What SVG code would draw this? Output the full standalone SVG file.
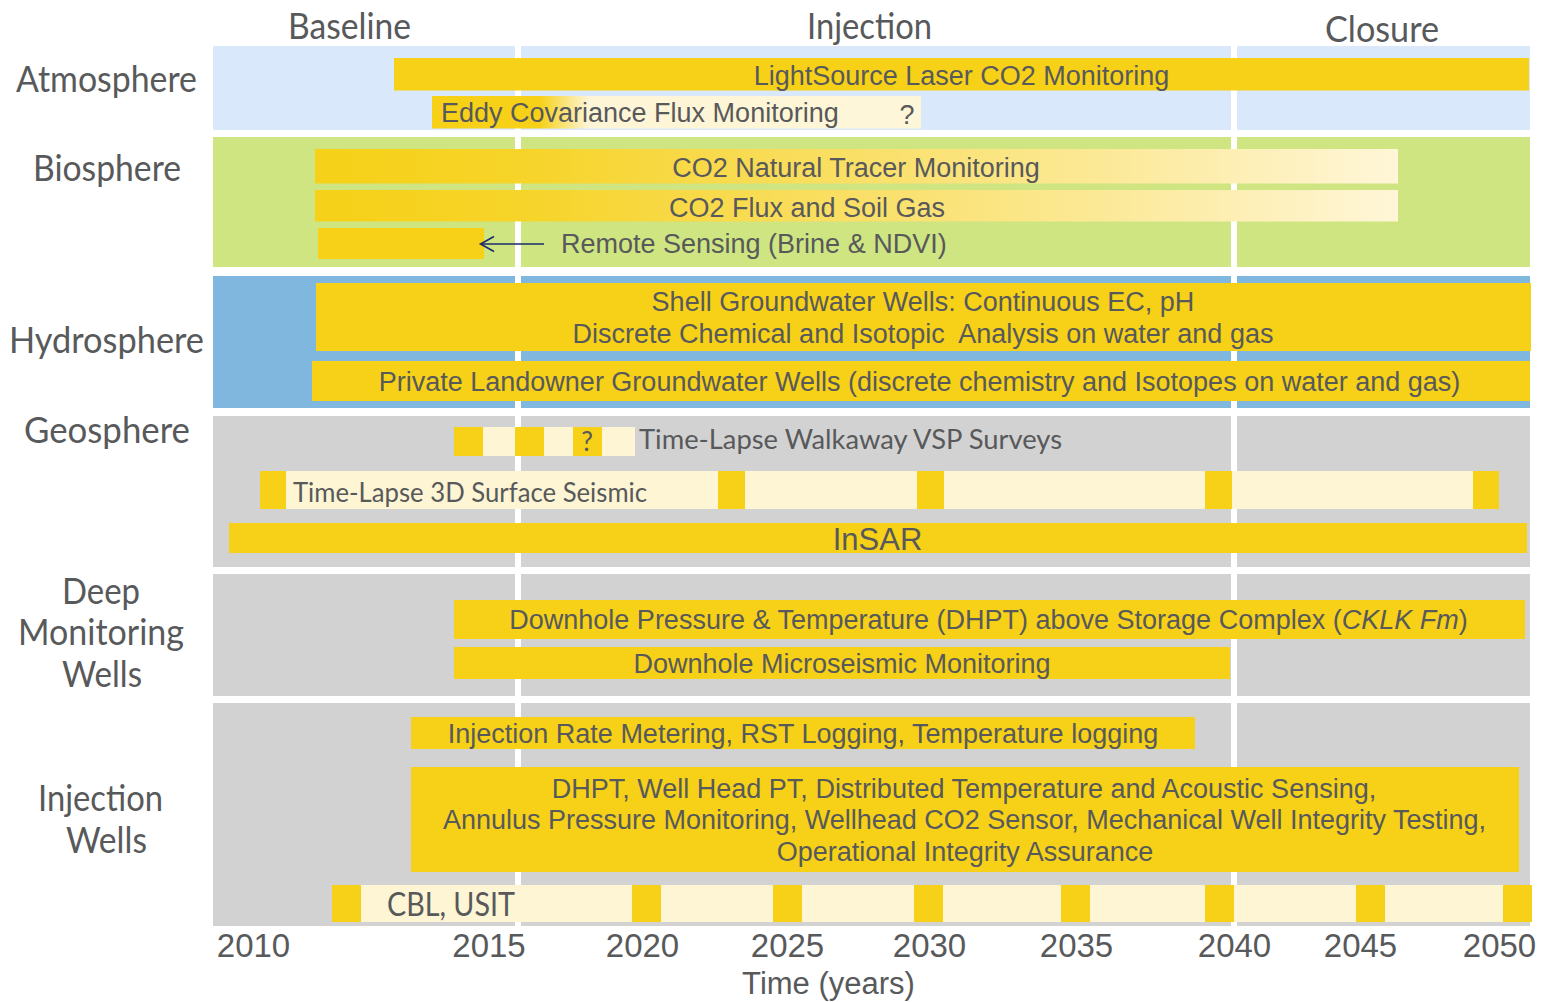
<svg xmlns="http://www.w3.org/2000/svg" width="1544" height="1002" viewBox="0 0 1544 1002">
<defs>
<style>
.f{font-family:Lato,"Open Sans","DejaVu Sans",sans-serif;fill:#58595b}
.h{font-size:36px}
.a{font-family:"Liberation Sans",Arial,sans-serif;fill:#58595b;font-size:27px}
.ax{font-family:"Liberation Sans",Arial,sans-serif;fill:#58595b;font-size:33px;text-anchor:middle}
.y{fill:#f6d118}
.c{fill:#fdf5d3}
.m{text-anchor:middle}
</style>
<linearGradient id="fade" x1="0" y1="0" x2="1" y2="0">
<stop offset="0" stop-color="#f6d118"/>
<stop offset="0.2" stop-color="#f7d42a"/>
<stop offset="0.45" stop-color="#f9dd5c"/>
<stop offset="0.75" stop-color="#fcea9c"/>
<stop offset="1" stop-color="#fff6d8"/>
</linearGradient>
<linearGradient id="eddy" x1="0" y1="0" x2="1" y2="0">
<stop offset="0" stop-color="#f6d118"/>
<stop offset="0.22" stop-color="#f6d118"/>
<stop offset="0.32" stop-color="#fef5d6"/>
<stop offset="1" stop-color="#fef6d8"/>
</linearGradient>
</defs>
<rect width="1544" height="1002" fill="#ffffff"/>

<g id="bands">
<rect id="band-atmosphere" x="213" y="46" width="1317" height="84" fill="#d9e8fb"/>
<rect id="band-biosphere" x="213" y="137" width="1317" height="130" fill="#cee582"/>
<rect id="band-hydrosphere" x="213" y="276" width="1317" height="132" fill="#80b7de"/>
<rect id="band-geosphere" x="213" y="416" width="1317" height="151" fill="#d2d2d2"/>
<rect id="band-deep" x="213" y="574" width="1317" height="122" fill="#d2d2d2"/>
<rect id="band-injection" x="213" y="703" width="1317" height="223" fill="#d2d2d2"/>
<rect x="515" y="40" width="6" height="890" fill="#ffffff"/>
<rect x="1231" y="40" width="6" height="890" fill="#ffffff"/>
</g>

<g id="phase-labels" class="f h">
<text id="lbl-baseline" x="288" y="39" textLength="123" lengthAdjust="spacingAndGlyphs">Baseline</text>
<text id="lbl-injection" x="807" y="39" textLength="125" lengthAdjust="spacingAndGlyphs">Injection</text>
<text id="lbl-closure" x="1325" y="42" textLength="114" lengthAdjust="spacingAndGlyphs">Closure</text>
</g>

<g id="row-labels" class="f h">
<text id="row-atmosphere" x="16" y="92" textLength="181" lengthAdjust="spacingAndGlyphs">Atmosphere</text>
<text id="row-biosphere" x="33" y="181" textLength="148" lengthAdjust="spacingAndGlyphs">Biosphere</text>
<text id="row-hydrosphere" x="9" y="353" textLength="195" lengthAdjust="spacingAndGlyphs">Hydrosphere</text>
<text id="row-geosphere" x="24" y="443" textLength="166" lengthAdjust="spacingAndGlyphs">Geosphere</text>
<g id="row-deep">
<text x="62" y="604" textLength="78" lengthAdjust="spacingAndGlyphs">Deep</text>
<text x="18" y="645" textLength="166" lengthAdjust="spacingAndGlyphs">Monitoring</text>
<text x="62" y="687" textLength="80" lengthAdjust="spacingAndGlyphs">Wells</text>
</g>
<g id="row-injection">
<text x="38" y="811" textLength="125" lengthAdjust="spacingAndGlyphs">Injection</text>
<text x="66" y="853" textLength="81" lengthAdjust="spacingAndGlyphs">Wells</text>
</g>
</g>

<g id="lightsource">
<rect class="y" x="394" y="58" width="1135" height="32.5"/>
<text class="a m" x="961.5" y="85">LightSource Laser CO2 Monitoring</text>
</g>
<g id="eddy-covariance">
<rect x="432" y="96" width="489" height="32.5" fill="url(#eddy)"/>
<text class="a" x="441" y="122">Eddy Covariance Flux Monitoring</text>
<text class="a m" x="907" y="124">?</text>
</g>
<g id="tracer">
<rect x="315" y="149" width="1083" height="34.5" fill="url(#fade)"/>
<text class="a m" x="856" y="177">CO2 Natural Tracer Monitoring</text>
</g>
<g id="soil-gas">
<rect x="315" y="190" width="1083" height="31.5" fill="url(#fade)"/>
<text class="a m" x="807" y="217">CO2 Flux and Soil Gas</text>
</g>
<g id="remote-sensing">
<rect class="y" x="318" y="228" width="166" height="31"/>
<text class="a" x="561" y="253">Remote Sensing (Brine &amp; NDVI)</text>
</g>
<g id="shell-wells">
<rect class="y" x="316" y="283" width="1215" height="68"/>
<text class="a m" x="923" y="311">Shell Groundwater Wells: Continuous EC, pH</text>
<text class="a m" x="923" y="343" xml:space="preserve">Discrete Chemical and Isotopic  Analysis on water and gas</text>
</g>
<g id="private-wells">
<rect class="y" x="312" y="361" width="1218" height="40"/>
<text class="a m" x="919.5" y="391">Private Landowner Groundwater Wells (discrete chemistry and Isotopes on water and gas)</text>
</g>
<g id="vsp">
<rect class="y" x="454" y="427" width="29" height="29"/>
<rect class="c" x="483" y="427" width="32" height="29"/>
<rect class="y" x="515" y="427" width="29" height="29"/>
<rect class="c" x="544" y="427" width="29" height="29"/>
<rect class="y" x="573" y="427" width="29" height="29"/>
<rect class="c" x="602" y="427" width="33" height="29"/>
<text class="f m" x="587" y="451" font-size="26">?</text>
<text class="f" x="639" y="449" font-size="27" textLength="423" lengthAdjust="spacingAndGlyphs">Time-Lapse Walkaway VSP Surveys</text>
</g>
<g id="surface-seismic">
<rect class="c" x="260" y="471" width="1239" height="38"/>
<rect class="y" x="260" y="471" width="26" height="38"/>
<rect class="y" x="718" y="471" width="27" height="38"/>
<rect class="y" x="917" y="471" width="27" height="38"/>
<rect class="y" x="1205" y="471" width="27" height="38"/>
<rect class="y" x="1473" y="471" width="26" height="38"/>
<text class="f" x="293" y="502" font-size="27" textLength="354" lengthAdjust="spacingAndGlyphs">Time-Lapse 3D Surface Seismic</text>
</g>
<g id="insar">
<rect class="y" x="229" y="523" width="1298" height="30"/>
<text class="a m" x="877.5" y="550" style="font-size:31px">InSAR</text>
</g>
<g id="dhpt-deep">
<rect class="y" x="454" y="600" width="1071" height="39"/>
<text class="a m" x="988.5" y="629">Downhole Pressure &amp; Temperature (DHPT) above Storage Complex (<tspan font-style="italic">CKLK Fm</tspan>)</text>
</g>
<g id="microseismic">
<rect class="y" x="454" y="647" width="776" height="32"/>
<text class="a m" x="842" y="673">Downhole Microseismic Monitoring</text>
</g>
<g id="injection-rate">
<rect class="y" x="411" y="717" width="784" height="32"/>
<text class="a m" x="803" y="743">Injection Rate Metering, RST Logging, Temperature logging</text>
</g>
<g id="dhpt-well">
<rect class="y" x="411" y="767" width="1108" height="105"/>
<text class="a m" x="964" y="798">DHPT, Well Head PT, Distributed Temperature and Acoustic Sensing,</text>
<text class="a m" x="964.5" y="829">Annulus Pressure Monitoring, Wellhead CO2 Sensor, Mechanical Well Integrity Testing,</text>
<text class="a m" x="965" y="861">Operational Integrity Assurance</text>
</g>
<g id="cbl-usit">
<rect class="c" x="332" y="885" width="1200" height="37"/>
<rect class="y" x="332" y="885" width="29" height="37"/>
<rect class="y" x="632" y="885" width="29" height="37"/>
<rect class="y" x="773" y="885" width="29" height="37"/>
<rect class="y" x="914" y="885" width="29" height="37"/>
<rect class="y" x="1061" y="885" width="29" height="37"/>
<rect class="y" x="1205" y="885" width="29" height="37"/>
<rect class="y" x="1356" y="885" width="29" height="37"/>
<rect class="y" x="1503" y="885" width="29" height="37"/>
<text class="f" x="387" y="916" font-size="32" textLength="128" lengthAdjust="spacingAndGlyphs">CBL, USIT</text>
</g>

<g id="connectors" fill="none" stroke="#1b2a6b" stroke-width="1.6">
<line x1="544" y1="244" x2="481" y2="244"/>
<polyline points="494,236.5 480.5,244 494,251.5"/>
</g>

<g id="axis">
<text class="ax" x="253.5" y="957">2010</text>
<text class="ax" x="489" y="957">2015</text>
<text class="ax" x="642.5" y="957">2020</text>
<text class="ax" x="787.5" y="957">2025</text>
<text class="ax" x="929.5" y="957">2030</text>
<text class="ax" x="1076.5" y="957">2035</text>
<text class="ax" x="1234.5" y="957">2040</text>
<text class="ax" x="1360.5" y="957">2045</text>
<text class="ax" x="1499.5" y="957">2050</text>
<text class="ax" x="828.5" y="994" style="font-size:31px">Time (years)</text>
</g>
</svg>
